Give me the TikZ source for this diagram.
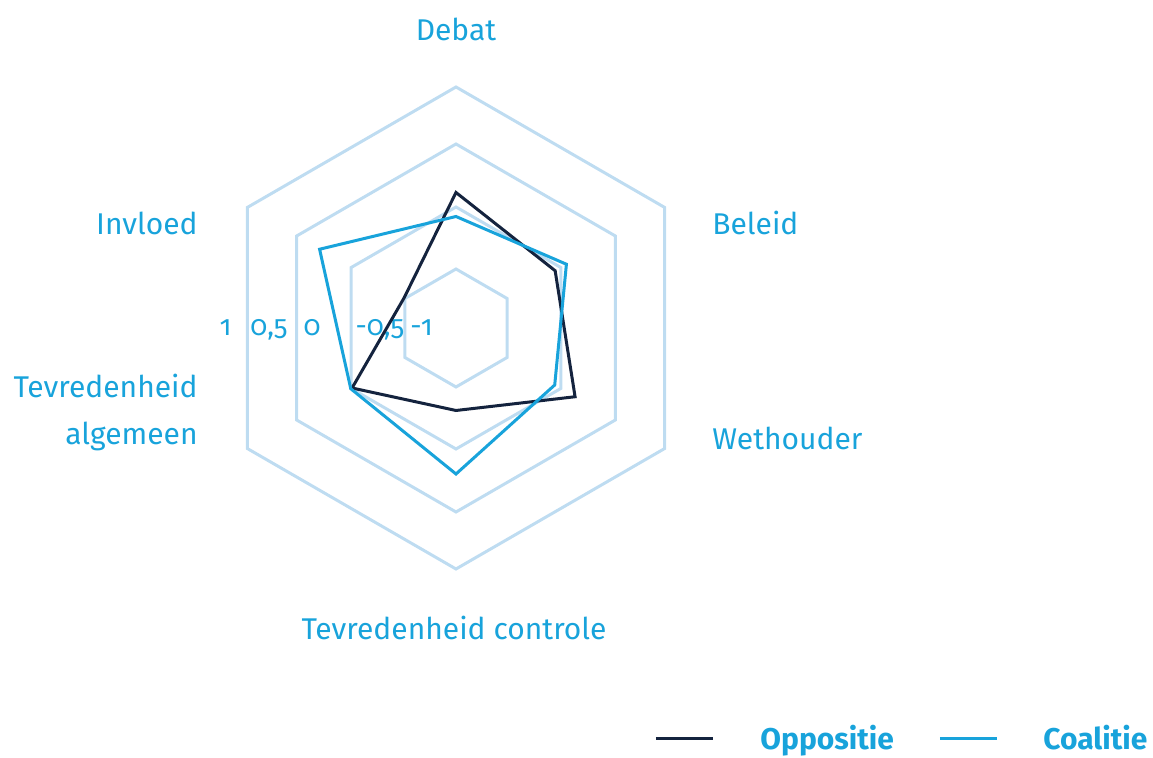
\documentclass[tikz,border=0pt]{standalone}
\usepackage{fontspec}
\setmainfont{Fira Sans}[Numbers=OldStyle]
\usetikzlibrary{positioning}

\definecolor{gridblue}{RGB}{190,220,241}
\definecolor{textblue}{RGB}{24,163,219}
\definecolor{navy}{RGB}{20,35,62}

\begin{document}
\begin{tikzpicture}[x=0.5pt,y=0.5pt,
		every node/.style={text=textblue,font=\fontsize{15}{23.5}\selectfont,inner sep=0pt},
		axislabel/.style={anchor=base},
		ticklabel/.style={anchor=base,font=\fontsize{14}{16}\selectfont},
		gridline/.style={gridblue,line width=1.5pt,line join=miter},
		opp/.style={navy,line width=1.5pt,line join=miter},
		coal/.style={textblue,line width=1.5pt,line join=miter}]
	\useasboundingbox (-456,-430) rectangle (697,328);

	% raster
	\foreach \r in {59,121,184,241}
		\draw[gridline] (90:\r) -- (30:\r) -- (-30:\r) -- (-90:\r) -- (210:\r) -- (150:\r) -- cycle;

	% schaal
	\node[ticklabel] (t1) at (-230.5,-8) {1};
	\node[ticklabel] (t2) at (-187,-8) {0,5};
	\node[ticklabel] (t3) at (-144,-8) {0};
	\node[ticklabel] (t4) at (-76,-8) {-0,5};
	\node[ticklabel] (t5) at (-34.5,-8) {-1};

	% oppositie
	\coordinate (O1) at (90:135.5);
	\coordinate (O2) at (30:114.5);
	\coordinate (O3) at (-30:137.5);
	\coordinate (O4) at (-90:82.5);
	\coordinate (O5) at (210:120);
	\coordinate (O6) at (150:60);
	\draw[opp] (O1) -- (O2) -- (O3) -- (O4) -- (O5) -- (O6) -- cycle;

	% coalitie
	\coordinate (C1) at (90:111.5);
	\coordinate (C2) at (30:127.5);
	\coordinate (C3) at (-30:114);
	\coordinate (C4) at (-90:146);
	\coordinate (C5) at (210:121.5);
	\coordinate (C6) at (150:157.5);
	\draw[coal] (C1) -- (C2) -- (C3) -- (C4) -- (C5) -- (C6) -- cycle;

	% assen
	\node[axislabel] (debat) at (0,287) {Debat};
	\node[axislabel,anchor=base west] (beleid) at (256,93) {Beleid};
	\node[axislabel,anchor=base west] (wethouder) at (256,-122) {Wethouder};
	\node[axislabel] (controle) at (-2,-312) {Tevredenheid controle};
	\node[axislabel,anchor=base east] (invloed) at (-258,93) {Invloed};
	\node[axislabel,anchor=base east] (algemeen) at (-258,-70) {Tevredenheid};
	\node[axislabel,anchor=base east] (algemeen2) at (-258,-117) {algemeen};

	% legenda
	\coordinate (lo1) at (200,-411);
	\coordinate (lo2) at (257,-411);
	\coordinate (lc1) at (484,-411);
	\coordinate (lc2) at (541,-411);
	\draw[opp] (lo1) -- (lo2);
	\draw[coal] (lc1) -- (lc2);
	\node[anchor=base west,font=\fontsize{15}{18}\selectfont\bfseries] (oppositie) at (304,-422) {Oppositie};
	\node[anchor=base west,font=\fontsize{15}{18}\selectfont\bfseries] (coalitie) at (587,-422) {Coalitie};
\end{tikzpicture}
\end{document}
